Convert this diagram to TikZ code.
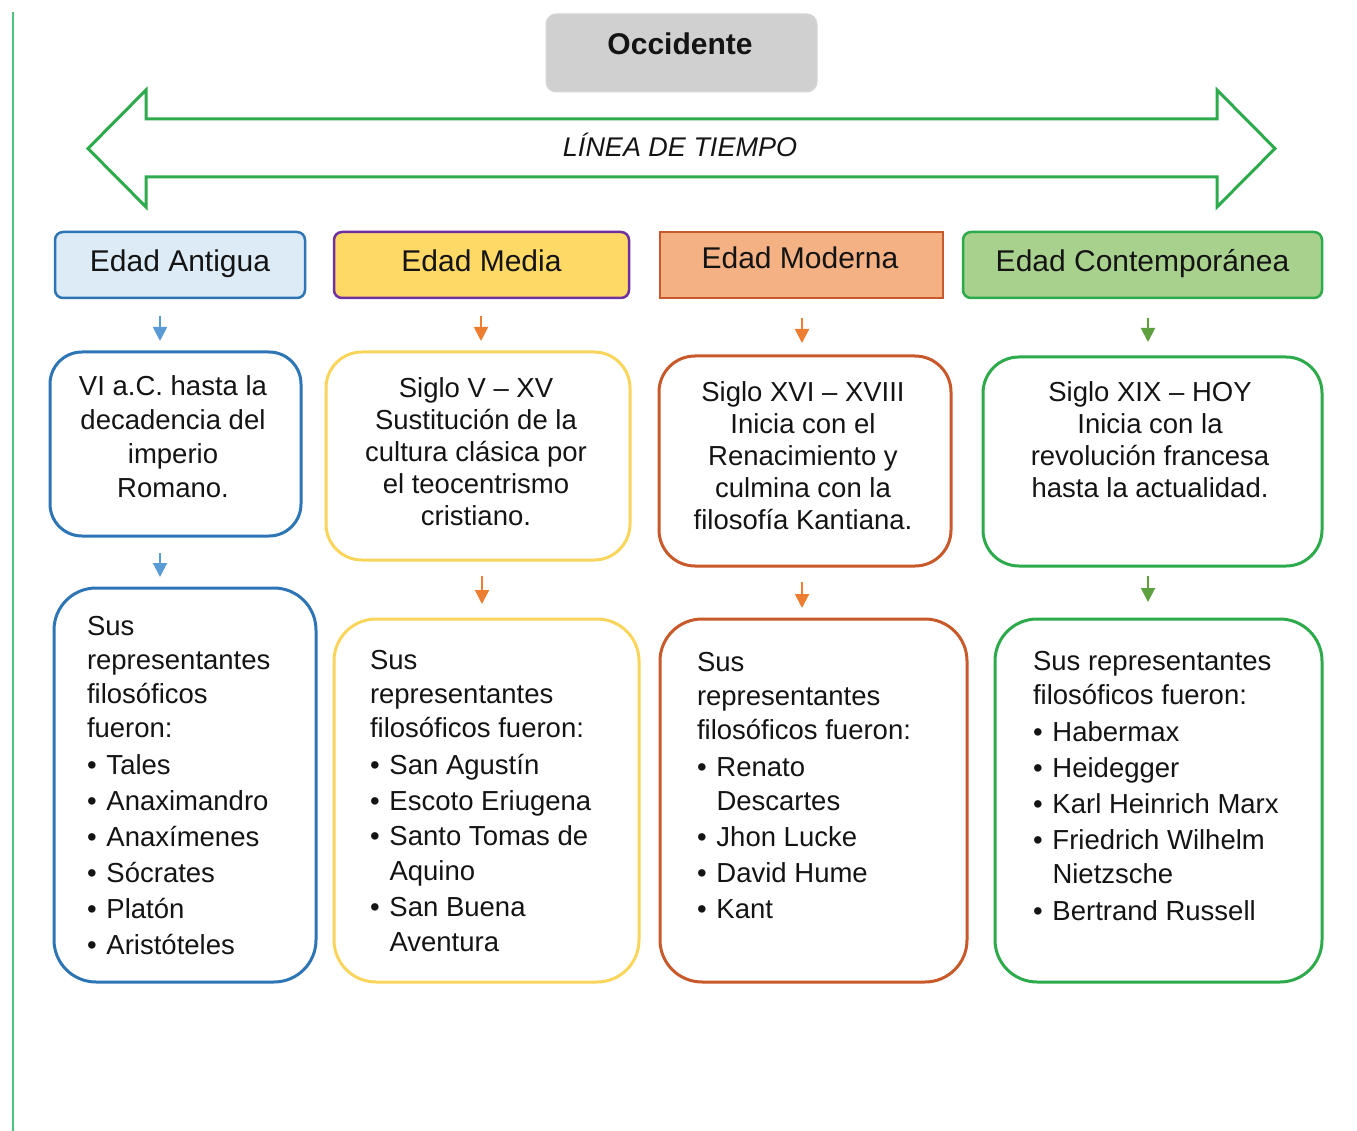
\documentclass[tikz,border=0pt]{standalone}
\usepackage{fontspec}
\setmainfont{Liberation Sans}
\usetikzlibrary{arrows.meta}
\definecolor{cblue}{HTML}{2E75B6}
\definecolor{cbluefill}{HTML}{DDEBF7}
\definecolor{cbluearr}{HTML}{5B9BD5}
\definecolor{cyellow}{HTML}{FFD966}
\definecolor{cyellowline}{HTML}{FAD55C}
\definecolor{cpurple}{HTML}{7030A0}
\definecolor{corangefill}{HTML}{F4B183}
\definecolor{cbrown}{HTML}{C8592A}
\definecolor{corangearr}{HTML}{ED7D31}
\definecolor{cgreenfill}{HTML}{A9D18E}
\definecolor{cgreen}{HTML}{2DAA4B}
\definecolor{cgreenarr}{HTML}{5EA040}
\definecolor{cgray}{HTML}{D0D0D0}
\definecolor{cline}{HTML}{52C17F}
\definecolor{ctext}{HTML}{141414}
\newcommand{\bul}{\makebox[19.5pt][l]{•}}
\newcommand{\ind}{\hspace*{19.5pt}}
\begin{document}
\begin{tikzpicture}[x=1pt,y=-1pt,
  box/.style={draw, line width=3pt, fill=white, inner sep=0pt, outer sep=0pt},
  hdr/.style={draw, line width=2.5pt, rounded corners=8pt, inner sep=0pt, outer sep=0pt,
    text=ctext, font=\fontsize{30}{36}\selectfont, text height=20pt, text depth=6pt},
  arr/.style={line width=2pt, -{Triangle[width=14pt,length=14pt]}},
  ctxt/.style={inner sep=0pt, outer sep=0pt, anchor=north, align=center, text=ctext,
    font=\fontsize{27.5}{32}\selectfont},
  ltxt/.style={inner sep=0pt, outer sep=0pt, anchor=north west, align=left, text=ctext,
    font=\fontsize{27.5}{34}\selectfont}]
\useasboundingbox (0,0) rectangle (1357,1131);
\fill[white] (0,0) rectangle (1357,1131);

% left rule
\draw[cline, line width=1.5pt] (13,12) -- (13,1131);

% title
\node[fill=cgray, draw=cgray!85!white, line width=1pt, rounded corners=10pt,
  minimum width=271pt, minimum height=78pt, inner sep=0pt] (occ) at (681.5,53) {};
\node[inner sep=0pt, text=ctext, font=\fontsize{30}{36}\selectfont\bfseries] (occt) at (680,44) {Occidente};

% timeline double arrow
\draw[cgreen, line width=3pt, line join=miter, fill=white]
  (88,148.5) -- (146,90) -- (146,119) -- (1217,119) -- (1217,90) -- (1275,148.5)
  -- (1217,207) -- (1217,177) -- (146,177) -- (146,207) -- cycle;
\node[inner sep=0pt, text=ctext, font=\fontsize{27}{32}\selectfont\itshape] (lin) at (680,145) {LÍNEA DE TIEMPO};

% headers
\node[hdr, draw=cblue, fill=cbluefill, minimum width=250pt, minimum height=66pt] (h1) at (180,265) {Edad Antigua};
\node[hdr, draw=cpurple, fill=cyellow, minimum width=295pt, minimum height=66pt] (h2) at (481.5,265) {Edad Media};
\node[hdr, draw=cbrown, fill=corangefill, rounded corners=0pt, minimum width=283pt, minimum height=66pt] (h3) at (801.5,265) {};
\node[inner sep=0pt, text=ctext, font=\fontsize{30}{36}\selectfont, text height=20pt, text depth=6pt] (h3t) at (800,262) {Edad Moderna};
\node[hdr, draw=cgreen, fill=cgreenfill, minimum width=359pt, minimum height=66pt] (h4) at (1142.5,265) {Edad Contemporánea};

% middle boxes
\node[box, draw=cblue, rounded corners=32pt, minimum width=251pt, minimum height=184pt] (m1) at (175.5,444) {};
\node[box, draw=cyellowline, rounded corners=36pt, minimum width=304pt, minimum height=208pt] (m2) at (478,456) {};
\node[box, draw=cbrown, rounded corners=36pt, minimum width=292pt, minimum height=210pt] (m3) at (805,461) {};
\node[box, draw=cgreen, rounded corners=36pt, minimum width=339pt, minimum height=209pt] (m4) at (1152.5,461.5) {};

\node[ctxt, font=\fontsize{27.5}{34}\selectfont] (m1t) at (173,371.2) {\strut VI a.C. hasta la\\decadencia del\\imperio\\Romano.};
\node[ctxt] (m2t) at (476,374.6) {\strut Siglo V -- XV\\Sustitución de la\\cultura clásica por\\el teocentrismo\\cristiano.};
\node[ctxt] (m3t) at (803,378.6) {\strut Siglo XVI -- XVIII\\Inicia con el\\Renacimiento y\\culmina con la\\filosofía Kantiana.};
\node[ctxt] (m4t) at (1150,378.6) {\strut Siglo XIX -- HOY\\Inicia con la\\revolución francesa\\hasta la actualidad.};

% bottom boxes
\node[box, draw=cblue, rounded corners=42pt, minimum width=262pt, minimum height=394pt] (b1) at (185,785) {};
\node[box, draw=cyellowline, rounded corners=42pt, minimum width=305pt, minimum height=363pt] (b2) at (486.5,800.5) {};
\node[box, draw=cbrown, rounded corners=42pt, minimum width=307pt, minimum height=363pt] (b3) at (813.5,800.5) {};
\node[box, draw=cgreen, rounded corners=42pt, minimum width=327pt, minimum height=363pt] (b4) at (1158.5,800.5) {};

\node[ltxt] (b1t) at (87,611.2) {\strut Sus\\representantes\\filosóficos\\fueron:\\[3pt]\bul Tales\\[2pt]\bul Anaximandro\\[2pt]\bul Anaxímenes\\[2pt]\bul Sócrates\\[2pt]\bul Platón\\[2pt]\bul Aristóteles};
\node[ltxt] (b2t) at (370,645.2) {\strut Sus\\representantes\\filosóficos fueron:\\[3pt]\bul San Agustín\\[2pt]\bul Escoto Eriugena\\[1pt]\bul Santo Tomas de\\[1pt]\ind Aquino\\[2pt]\bul San Buena\\[1pt]\ind Aventura};
\node[ltxt] (b3t) at (697,647.2) {\strut Sus\\representantes\\filosóficos fueron:\\[3pt]\bul Renato\\\ind Descartes\\[2pt]\bul Jhon Lucke\\[2pt]\bul David Hume\\[2pt]\bul Kant};
\node[ltxt] (b4t) at (1033,646.2) {\strut Sus representantes\\filosóficos fueron:\\[3pt]\bul Habermax\\[2pt]\bul Heidegger\\[2pt]\bul Karl Heinrich Marx\\[2pt]\bul Friedrich Wilhelm\\\ind Nietzsche\\[3pt]\bul Bertrand Russell};

% small arrows
\coordinate (a1s) at (160,316); \coordinate (a1e) at (160,341);
\coordinate (a2s) at (481,316); \coordinate (a2e) at (481,341);
\coordinate (a3s) at (802,318); \coordinate (a3e) at (802,343);
\coordinate (a4s) at (1148,318); \coordinate (a4e) at (1148,342);
\coordinate (c1s) at (160,553); \coordinate (c1e) at (160,577);
\coordinate (c2s) at (482,576); \coordinate (c2e) at (482,604);
\coordinate (c3s) at (802,582); \coordinate (c3e) at (802,608);
\coordinate (c4s) at (1148,576); \coordinate (c4e) at (1148,602);
\draw[arr, cbluearr] (a1s) -- (a1e);
\draw[arr, corangearr] (a2s) -- (a2e);
\draw[arr, corangearr] (a3s) -- (a3e);
\draw[arr, cgreenarr] (a4s) -- (a4e);
\draw[arr, cbluearr] (c1s) -- (c1e);
\draw[arr, corangearr] (c2s) -- (c2e);
\draw[arr, corangearr] (c3s) -- (c3e);
\draw[arr, cgreenarr] (c4s) -- (c4e);
\end{tikzpicture}
\end{document}
